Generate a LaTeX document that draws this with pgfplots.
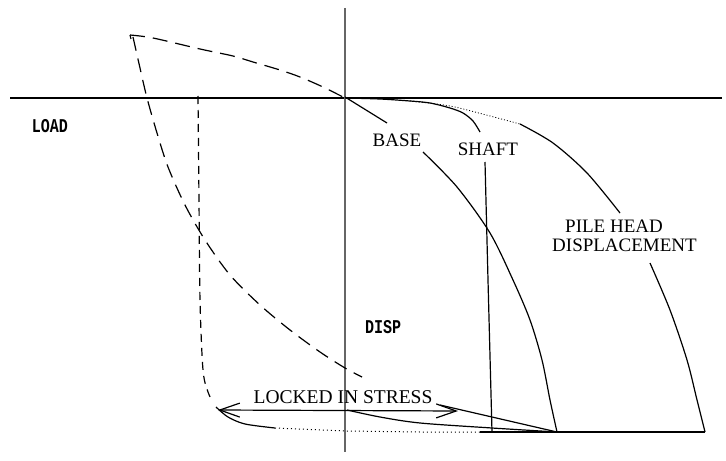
\documentclass[border=0pt]{standalone}
\usepackage{pgfplots}
\pgfplotsset{compat=1.18}
\usepackage{fontspec}
\setmainfont{Liberation Serif}
\newfontfamily\monof{Liberation Mono}
\usetikzlibrary{arrows.meta}
\begin{document}
\begin{tikzpicture}
\begin{axis}[hide axis, scale only axis, width=726bp, height=461bp,
  xmin=0, xmax=726, ymin=0, ymax=461, y dir=reverse, clip=false]
\path (axis cs:0,0) rectangle (axis cs:726,461);
% axes
\addplot[black, line width=1.6bp] coordinates {(10,98) (722,98)};
\addplot[gray!80!black, line width=1.6bp] coordinates {(345,8) (345,452)};
% top dashed curve
\addplot[black, line width=1.2bp, dash pattern=on 15bp off 8bp, smooth] coordinates {
 (130,35) (153,38) (200,49) (233,56) (253,62) (280,70) (300,77) (323,87) (345,98)};
\addplot[black, line width=1.2bp] coordinates {(130,35) (131,39)};
% long dashed descending curve
\addplot[black, line width=1.2bp, dash pattern=on 14bp off 8bp, smooth] coordinates {
 (133,37) (140,68) (147,98) (157,133) (168,167) (185,205) (205,240) (230,275)
 (260,305) (290,330) (320,352) (345,368) (362,377)};
% short dashed vertical
\addplot[black, line width=1.2bp, dash pattern=on 8bp off 6bp, smooth] coordinates {
 (198,96) (199,200) (200,300) (203,370) (208,392) (213,402)};
% bottom curve
\addplot[black, line width=1.2bp, smooth] coordinates {(216,407) (228,417) (245,424) (275,428)};
\addplot[black, line width=1bp, dash pattern=on 1bp off 3bp] coordinates {(275,428) (347,431) (420,432) (480,432)};
\addplot[black, line width=1.4bp] coordinates {(480,432) (705,432)};
% locked in stress arrow
\addplot[black, line width=1.2bp, {Straight Barb[length=20bp,width=14bp]}-{Straight Barb[length=20bp,width=14bp]}] coordinates {(218,410) (458,411)};
\addplot[black, line width=1.2bp] coordinates {(440,405) (557,432)};
\addplot[black, line width=1.2bp, smooth] coordinates {(347,410) (380,417) (420,423) (492,428) (557,432)};
% base curve
\addplot[black, line width=1.2bp] coordinates {(345,97) (387,123)};
\addplot[black, line width=1.2bp, smooth] coordinates {
 (423,152) (457,187) (490,233) (513,280) (530,320) (542,360) (550,400) (557,432)};
% shaft
\addplot[black, line width=1.2bp, smooth] coordinates {
 (345,98) (380,99) (410,101) (430,103) (450,108) (463,113) (473,121) (480,132)};
\addplot[black, line width=1.2bp] coordinates {(485,162) (488,280) (492,432)};
% pile head
\addplot[black, line width=0.8bp, dash pattern=on 1bp off 2bp, smooth] coordinates {
 (410,101) (450,106) (490,116) (520,124)};
\addplot[black, line width=1.2bp, smooth] coordinates {(520,124) (553,143) (587,173) (620,213)};
\addplot[black, line width=1.2bp, smooth] coordinates {(650,263) (670,310) (687,360) (697,400) (705,432)};
% labels
\node[font=\fontsize{19bp}{19bp}\selectfont, inner sep=0pt] at (axis cs:397,140) {BASE};
\node[font=\fontsize{19bp}{19bp}\selectfont, inner sep=0pt] at (axis cs:488,149) {SHAFT};
\node[font=\fontsize{19bp}{19bp}\selectfont, inner sep=0pt, anchor=north west, align=left] at (axis cs:552,220) {\hspace*{13bp}PILE HEAD\\DISPLACEMENT};
\node[font=\fontsize{19.5bp}{20bp}\selectfont, inner sep=0pt] at (axis cs:343,397) {LOCKED IN STRESS};
\node[font=\monof\bfseries\fontsize{15bp}{16bp}\selectfont, inner sep=0pt] at (axis cs:50,126) {\scalebox{1}[1.3]{LOAD}};
\node[font=\monof\bfseries\fontsize{15bp}{16bp}\selectfont, inner sep=0pt] at (axis cs:383,327) {\scalebox{1}[1.3]{DISP}};
\end{axis}
\end{tikzpicture}
\end{document}
